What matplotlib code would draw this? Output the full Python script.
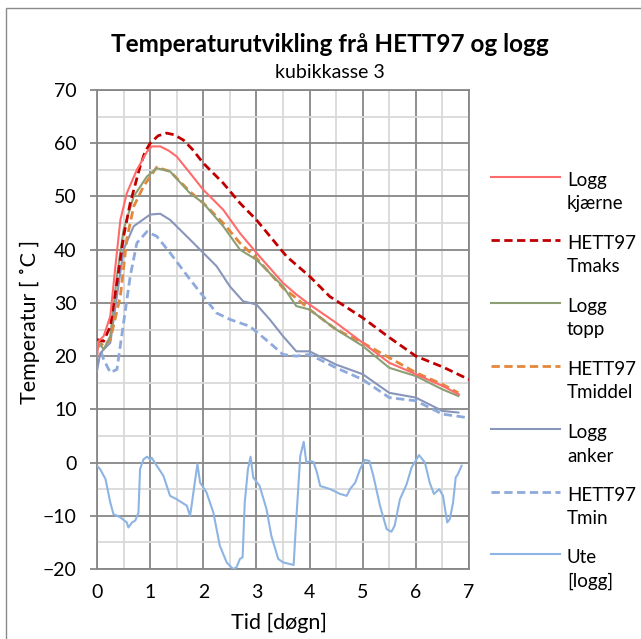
import matplotlib.pyplot as plt
from matplotlib.lines import Line2D
from matplotlib.patches import Rectangle
from matplotlib.ticker import MultipleLocator

plt.rcParams['font.family'] = ['Lato', 'DejaVu Sans']

# --- data ---
kjaerne_x = [0, 0.03, 0.125, 0.25, 0.34, 0.44, 0.56, 0.75, 0.94, 1.03, 1.19, 1.35, 1.5, 1.75, 2.0, 2.375,
             2.69, 3.0, 3.5, 3.75, 4.0, 4.5, 5.0, 5.5, 6.0, 6.5, 6.81]
kjaerne_y = [19.7, 22.8, 23.75, 27.5, 36.25, 45.6, 50.6, 55.0, 58.4, 59.4, 59.4, 58.6, 57.5, 54.4, 51.25, 47.5,
             43.1, 39.4, 33.75, 31.6, 29.7, 26.25, 22.5, 18.75, 16.6, 14.4, 12.8]

tmaks_x = [0, 0.125, 0.25, 0.375, 0.5, 0.625, 0.81, 0.9, 1.0, 1.15, 1.31, 1.45, 1.625, 1.8, 2.0, 2.375,
           2.69, 3.0, 3.57, 4.0, 4.38, 5.0, 5.5, 6.0, 6.52, 7.0]
tmaks_y = [23.1, 22.8, 25.6, 33.75, 42.5, 48.75, 55.6, 58.3, 60.0, 61.4, 61.9, 61.6, 60.6, 58.8, 56.25, 52.5,
           48.75, 45.6, 38.7, 35.0, 31.2, 27.2, 23.5, 20.0, 17.9, 15.6]

topp_x = [0, 0.125, 0.25, 0.375, 0.5, 0.69, 0.94, 1.125, 1.375, 1.75, 2.0, 2.375, 2.69, 3.0, 3.5,
          3.75, 4.0, 4.5, 5.0, 5.5, 6.0, 6.5, 6.8]
topp_y = [23.1, 21.25, 23.75, 35.0, 43.75, 50.0, 53.75, 55.3, 54.7, 50.6, 48.75, 44.4, 40.0, 38.1, 33.1,
          29.4, 28.75, 25.0, 21.9, 17.8, 16.25, 13.75, 12.5]

tmiddel_x = [0, 0.125, 0.25, 0.44, 0.56, 0.69, 0.875, 1.125, 1.375, 1.75, 2.0, 2.375, 2.69, 3.0, 3.5,
             3.75, 4.0, 4.5, 5.0, 5.5, 6.0, 6.5, 6.8]
tmiddel_y = [23.1, 21.9, 23.1, 31.25, 41.9, 48.1, 51.9, 55.5, 54.7, 50.9, 48.75, 45.0, 41.25, 38.4, 32.8,
             30.9, 28.75, 25.0, 22.5, 19.7, 16.9, 14.7, 13.1]

anker_x = [0, 0.06, 0.125, 0.25, 0.375, 0.5, 0.69, 1.0, 1.19, 1.375, 1.75, 2.0, 2.25, 2.5, 2.75, 3.0,
           3.25, 3.5, 3.75, 4.0, 4.5, 5.0, 5.5, 6.0, 6.5, 6.8]
anker_y = [17.2, 20.5, 21.25, 22.5, 31.25, 40.0, 44.4, 46.6, 46.75, 45.6, 41.9, 39.4, 36.9, 33.1, 30.3, 29.7,
           26.9, 23.75, 20.9, 20.9, 18.4, 16.6, 13.1, 12.2, 9.7, 9.4]

tmin_x = [0, 0.125, 0.25, 0.375, 0.5, 0.625, 0.75, 0.94, 1.125, 1.375, 1.75, 2.0, 2.25, 2.5, 2.875,
          3.25, 3.5, 3.75, 4.0, 4.5, 5.0, 5.5, 6.0, 6.5, 7.0]
tmin_y = [23.1, 19.4, 16.9, 17.5, 26.25, 35.0, 41.25, 43.4, 42.5, 39.4, 34.4, 31.25, 28.1, 26.9, 25.6,
          22.5, 20.3, 20.0, 20.3, 17.8, 15.6, 12.2, 11.6, 9.1, 8.4]

ute_x = [0, 0.06, 0.16, 0.25, 0.31, 0.44, 0.56, 0.59, 0.66, 0.72, 0.78, 0.81, 0.875, 0.94, 1.0, 1.03,
         1.125, 1.25, 1.375, 1.5, 1.69, 1.75, 1.78, 1.84, 1.89, 1.94, 2.06, 2.19, 2.31, 2.44, 2.56, 2.625,
         2.69, 2.74, 2.78, 2.84, 2.89, 2.94, 3.06, 3.19, 3.28, 3.41, 3.5, 3.7, 3.75, 3.825, 3.89, 3.94,
         4.01, 4.075, 4.14, 4.2, 4.39, 4.575, 4.7, 4.76, 4.86, 4.95, 5.04, 5.125, 5.2, 5.325, 5.45, 5.54,
         5.6, 5.7, 5.825, 5.92, 6.06, 6.17, 6.26, 6.34, 6.44, 6.51, 6.59, 6.64, 6.7, 6.75, 6.79, 6.86]
ute_y = [-0.6, -1.25, -3.1, -7.5, -9.7, -10.3, -11.25, -12.2, -11.25, -10.9, -9.4, -1.25, 0.6, 1.1, 0.6, 0.9,
         -0.6, -2.5, -6.25, -6.9, -8.1, -10.0, -8.1, -3.75, -0.3, -3.75, -5.6, -9.4, -15.6, -18.75, -20.0, -19.7,
         -18.1, -17.8, -7.5, -1.25, 1.1, -2.8, -4.4, -8.75, -13.75, -18.1, -18.75, -19.25, -10.6, 1.25, 3.9, 0.0,
         0.3, 0.1, -1.9, -4.4, -5.0, -5.9, -6.25, -5.0, -3.75, -1.25, 0.5, 0.3, -2.5, -8.1, -12.5, -13.0,
         -11.9, -6.9, -4.1, -0.9, 1.4, 0.0, -3.75, -5.9, -5.0, -6.25, -11.25, -10.6, -7.5, -2.8, -2.2, -0.6]

labels = ["Logg\nkjærne", "HETT97\nTmaks", "Logg\ntopp", "HETT97\nTmiddel", "Logg\nanker", "HETT97\nTmin", "Ute\n[logg]"]
colors = ["#FF6B6B", "#C00000", "#8C9F74", "#E3873A", "#8796BA", "#8EA9DB", "#8DB4E2"]
dashed = [False, True, False, True, False, True, False]
series = [(kjaerne_x, kjaerne_y), (tmaks_x, tmaks_y), (topp_x, topp_y), (tmiddel_x, tmiddel_y),
          (anker_x, anker_y), (tmin_x, tmin_y), (ute_x, ute_y)]

W, H = 641, 639
fig = plt.figure(figsize=(W / 100, H / 100), dpi=100)
ax = fig.add_axes([97 / W, 1 - 569 / H, 372 / W, 479 / H])

# outer chart border
fig.add_artist(Rectangle((6 / W, -0.2), 1.5, 1.2 - 8 / H, transform=fig.transFigure,
                         fill=False, ec="#8A8A8A", lw=1.0))

def style(i):
    if dashed[i]:
        return dict(lw=2.0, ls=(0, (3.0, 1.6)))
    return dict(lw=1.5, ls="-")

for i, (xs, ys) in enumerate(series):
    ax.plot(xs, ys, color=colors[i], zorder=3 + (6 - i) * 0.1, **style(i))

ax.set_xlim(0, 7)
ax.set_ylim(-20, 70)
ax.xaxis.set_major_locator(MultipleLocator(1))
ax.xaxis.set_minor_locator(MultipleLocator(0.5))
ax.yaxis.set_major_locator(MultipleLocator(10))
ax.yaxis.set_minor_locator(MultipleLocator(5))
ax.set_axisbelow(True)
ax.grid(which="major", color="#878787", lw=1.3)
ax.grid(which="minor", color="#D9D9D9", lw=1.3)
for s in ax.spines.values():
    s.set_color("#878787")
    s.set_linewidth(1.3)
ax.tick_params(axis="y", which="major", length=5, width=1.3, color="#878787", labelsize=14, pad=9.5)
ax.tick_params(axis="x", which="major", length=0, labelsize=14, pad=11)
ax.tick_params(which="minor", length=0)

ax.set_xlabel("Tid [døgn]", fontsize=15.5)
ax.set_ylabel("Temperatur [ ˚C ]", fontsize=15.5)
ax.xaxis.set_label_coords(0.49, -(613 - 569) / 479)
ax.yaxis.set_label_coords((40 - 97) / 372, 0.515)

fig.text(330 / W, 1 - 45 / H, "Temperaturutvikling frå HETT97 og logg", ha="center", va="center",
         fontsize=17.5, fontweight="bold")
fig.text(330 / W, 1 - 73 / H, "kubikkasse 3", ha="center", va="center", fontsize=14)

# legend drawn by hand: handle aligned with first label line
leg_y = [177, 240, 302.7, 365.7, 429.3, 491.7, 554.3]
for i, lab in enumerate(labels):
    yy = 1 - leg_y[i] / H
    fig.add_artist(Line2D([491 / W, 560 / W], [yy, yy], color=colors[i], transform=fig.transFigure,
                          **style(i)))
    fig.text(567 / W, yy + 5 / H, lab, ha="left", va="top", fontsize=13.5, linespacing=1.45)

fig.savefig("out.png", dpi=100)
